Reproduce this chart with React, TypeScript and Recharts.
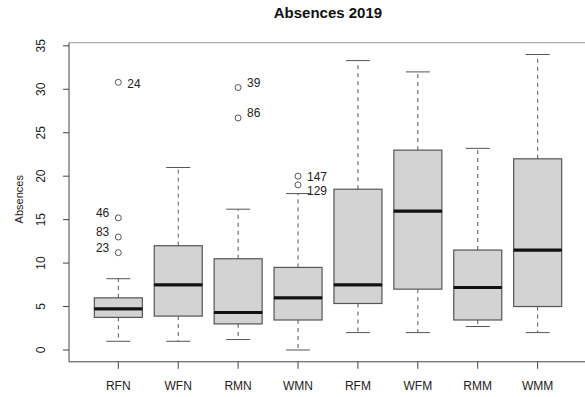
import { Bar, ComposedChart, Line, ReferenceLine, XAxis, YAxis } from "recharts";

const GROUPS = ["RFN", "WFN", "RMN", "WMN", "RFM", "WFM", "RMM", "WMM"];
const LOW = [1, 1, 1.2, 0, 2, 2, 2.7, 2];
const Q1 = [3.75, 3.9, 3, 3.45, 5.35, 7, 3.45, 5];
const MEDIAN = [4.75, 7.5, 4.3, 6, 7.5, 16, 7.2, 11.5];
const Q3 = [6, 12, 10.5, 9.5, 18.5, 23, 11.5, 22];
const HIGH = [8.2, 21, 16.2, 18, 33.3, 32, 23.2, 34];

const OUTLIER_GROUP = ["RFN", "RFN", "RFN", "RFN", "RMN", "RMN", "WMN", "WMN"];
const OUTLIER_VALUE = [30.8, 15.2, 13, 11.2, 30.2, 26.7, 20, 19];
const OUTLIER_ID = ["24", "46", "83", "23", "39", "86", "147", "129"];

const Y_TICKS = [0, 5, 10, 15, 20, 25, 30, 35];
const Y_DOMAIN = [-1.36, 35.36];

// label placement for the identified points (side, vertical nudge in px)
const LABEL_POS: Record<string, [string, number]> = {
  "24": ["right", 1],
  "46": ["left", -5],
  "83": ["left", -5],
  "23": ["left", -5],
  "39": ["right", -5],
  "86": ["right", -5],
  "147": ["right", 1],
  "129": ["right", 6],
};

const FONT = "'Liberation Sans', Arial, Helvetica, sans-serif";
const INK = "#222";
const AXIS = "#444";
const BOX = "#555";
const FILL = "#d3d3d3";

const MAX_OUT = 4;

const rows = GROUPS.map((g, i) => {
  const row: any = {
    group: g,
    base: LOW[i],
    lowWhisker: Q1[i] - LOW[i],
    lowBox: MEDIAN[i] - Q1[i],
    highBox: Q3[i] - MEDIAN[i],
    highWhisker: HIGH[i] - Q3[i],
  };
  let k = 0;
  OUTLIER_GROUP.forEach((og, j) => {
    if (og === g) {
      row[`o${k}`] = OUTLIER_VALUE[j];
      row[`id${k}`] = OUTLIER_ID[j];
      k++;
    }
  });
  return row;
});

const norm = (p: any) => {
  const h = Math.abs(p.height);
  const top = p.height < 0 ? p.y + p.height : p.y;
  return { x: p.x, w: p.width, top, bottom: top + h, cx: p.x + p.width / 2 };
};

const Empty = () => <g />;

const LowWhisker = (p: any) => {
  const { w, top, bottom, cx } = norm(p);
  return (
    <g>
      <line x1={cx} x2={cx} y1={top} y2={bottom} stroke={BOX} strokeDasharray="4 4" />
      <line x1={cx - w / 4} x2={cx + w / 4} y1={bottom} y2={bottom} stroke={BOX} />
    </g>
  );
};

const HighWhisker = (p: any) => {
  const { w, top, bottom, cx } = norm(p);
  return (
    <g>
      <line x1={cx} x2={cx} y1={bottom} y2={top} stroke={BOX} strokeDasharray="4 4" />
      <line x1={cx - w / 4} x2={cx + w / 4} y1={top} y2={top} stroke={BOX} />
    </g>
  );
};

const LowBox = (p: any) => {
  const { x, w, top, bottom } = norm(p);
  return (
    <g>
      <rect x={x} y={top} width={w} height={bottom - top} fill={FILL} stroke={BOX} strokeWidth={1.2} />
      <line x1={x} x2={x + w} y1={top} y2={top} stroke="#111" strokeWidth={3} />
    </g>
  );
};

const HighBox = (p: any) => {
  const { x, w, top, bottom } = norm(p);
  return (
    <g>
      <rect x={x} y={top} width={w} height={bottom - top} fill={FILL} stroke={BOX} strokeWidth={1.2} />
      <line x1={x} x2={x + w} y1={bottom} y2={bottom} stroke="#111" strokeWidth={3} />
    </g>
  );
};

const outlierDot = (k: number) => (p: any) => {
  const { cx, cy, payload, index } = p;
  const key = `o${k}-${index}`;
  if (typeof cy !== "number" || Number.isNaN(cy) || payload[`o${k}`] == null) return <g key={key} />;
  const id = payload[`id${k}`];
  const [side, dy] = LABEL_POS[id] || ["right", 0];
  return (
    <g key={key}>
      <circle cx={cx} cy={cy} r={3} fill="none" stroke={BOX} strokeWidth={1} />
      <text
        x={side === "left" ? cx - 9 : cx + 9}
        y={cy + dy}
        dy="0.36em"
        textAnchor={side === "left" ? "end" : "start"}
        fontSize={12}
        fill={INK}
        fontFamily={FONT}
      >
        {id}
      </text>
    </g>
  );
};

const YTick = (p: any) => {
  const x = p.x - 16;
  return (
    <text x={x} y={p.y} transform={`rotate(-90 ${x} ${p.y})`} textAnchor="middle" fontSize={12} fill={INK} fontFamily={FONT}>
      {p.payload.value}
    </text>
  );
};

const Title = ({ viewBox }: any) => (
  <text
    x={viewBox.x + viewBox.width / 2}
    y={viewBox.y - 24.5}
    textAnchor="middle"
    fontSize={15}
    fontWeight="bold"
    fill="#111"
    fontFamily={FONT}
  >
    Absences 2019
  </text>
);

export default function App() {
  return (
    <div style={{ position: "absolute", left: 0, top: 0, width: 585, height: 397, overflow: "hidden", background: "#fff" }}>
      <ComposedChart width={600} height={397} data={rows} margin={{ top: 42.7, right: 13.1, bottom: 0, left: 0 }}>
        <XAxis
          dataKey="group"
          type="category"
          interval={0}
          padding={{ left: 19.35, right: 19.35 }}
          height={35.2}
          tickSize={7}
          tickMargin={12.5}
          tick={{ fontSize: 12, fill: INK, fontFamily: FONT }}
          axisLine={{ stroke: AXIS }}
          tickLine={{ stroke: AXIS }}
        />
        <YAxis
          type="number"
          domain={Y_DOMAIN}
          ticks={Y_TICKS}
          allowDataOverflow
          width={69}
          tickSize={6}
          tick={YTick}
          axisLine={{ stroke: AXIS }}
          tickLine={{ stroke: AXIS }}
          label={{
            content: ({ viewBox }: any) => {
              const x = viewBox.x + 22.5;
              const y = viewBox.y + viewBox.height / 2 - 3;
              return (
                <text x={x} y={y} transform={`rotate(-90 ${x} ${y})`} textAnchor="middle" fontSize={11} fill={INK} fontFamily={FONT}>
                  Absences
                </text>
              );
            },
          }}
        />
        <ReferenceLine y={Y_DOMAIN[1]} stroke="#999" ifOverflow="extendDomain" label={{ content: Title }} />
        <Bar dataKey="base" stackId="box" barSize={48} shape={Empty} isAnimationActive={false} />
        <Bar dataKey="lowWhisker" stackId="box" barSize={48} shape={LowWhisker} isAnimationActive={false} />
        <Bar dataKey="lowBox" stackId="box" barSize={48} shape={LowBox} isAnimationActive={false} />
        <Bar dataKey="highBox" stackId="box" barSize={48} shape={HighBox} isAnimationActive={false} />
        <Bar dataKey="highWhisker" stackId="box" barSize={48} shape={HighWhisker} isAnimationActive={false} />
        {Array.from({ length: MAX_OUT }, (_, k) => (
          <Line
            key={k}
            dataKey={`o${k}`}
            stroke="none"
            dot={outlierDot(k)}
            activeDot={false}
            isAnimationActive={false}
          />
        ))}
      </ComposedChart>
    </div>
  );
}
